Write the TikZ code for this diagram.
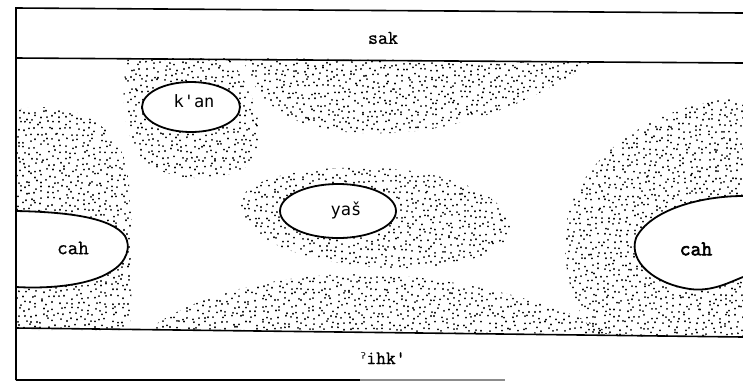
\documentclass[tikz,border=0pt]{standalone}
\usepackage{fontspec}
\newfontfamily\sansmono{DejaVu Sans Mono}
\newfontfamily\dvsans{DejaVu Sans}
\newfontfamily\typew[FakeBold=0.7]{Latin Modern Mono}
\newfontfamily\typewbold[FakeBold=2.8]{Latin Modern Mono}
\tikzset{
  frameline/.style={line width=1.6pt, black},
  hole/.style={line width=1.8pt, draw=black, fill=white},
  lab/.style={inner sep=0pt, text=black},
  dotpen/.style={line width=2.0pt, line cap=round, black}
}
\newcommand\dotfield[4]{%
  \foreach \i in {0,...,#3}{%
    \draw[dotpen] \foreach \j in {0,...,#4}{ ({#1+5.8*\i+2.4*rand},{#2+5.8*\j+2.4*rand}) -- ++(0,0.1) };
  }}
\begin{document}
\begin{tikzpicture}[x=1pt,y=-1pt]
\useasboundingbox[fill=white] (0,0) rectangle (743,384);
\pgfmathsetseed{7}
% left stipple
\begin{scope}
\clip (16,110) .. controls (60,100) and (110,115) .. (125,160) .. controls (135,200) and (132,290) .. (130,330) -- (16,330) -- cycle;
\dotfield{19}{100}{21}{42}
\end{scope}
% k'an stipple
\begin{scope}
\clip (128,58) -- (228,58) .. controls (250,80) and (268,130) .. (255,158) .. controls (240,182) and (180,185) .. (150,165) .. controls (125,148) and (118,100) .. (128,58) -- cycle;
\dotfield{118}{58}{27}{23}
\end{scope}
% top centre stipple
\begin{scope}
\clip (243,58) .. controls (262,128) and (330,135) .. (392,133) .. controls (470,130) and (545,95) .. (592,62) -- cycle;
\dotfield{240}{58}{62}{14}
\end{scope}
% centre stipple
\begin{scope}
\clip (240,205) .. controls (240,175) and (320,165) .. (380,168) .. controls (460,172) and (510,200) .. (510,228) .. controls (510,255) and (450,270) .. (390,268) .. controls (310,265) and (240,240) .. (240,205) -- cycle;
\dotfield{238}{164}{48}{19}
\end{scope}
% bottom mound stipple
\begin{scope}
\clip (148,330) .. controls (200,290) and (290,274) .. (360,274) .. controls (440,274) and (560,300) .. (610,334) -- cycle;
\dotfield{146}{271}{81}{12}
\end{scope}
% right stipple
\begin{scope}
\clip (743,98) .. controls (660,100) and (565,160) .. (565,240) .. controls (565,290) and (580,315) .. (595,336) -- (743,337) -- cycle;
\dotfield{563}{96}{32}{42}
\end{scope}
% holes
\draw[hole] (191,107) ellipse[x radius=49, y radius=25];
\draw[hole] (338,211) ellipse[x radius=58, y radius=27];
\draw[hole] (16,211) .. controls (70,212) and (112,218) .. (125,236) .. controls (131,246) and (128,262) .. (110,272) .. controls (90,285) and (50,289) .. (16,287);
\draw[hole] (743,196) .. controls (700,196) and (650,210) .. (636,238) .. controls (628,262) and (655,284) .. (690,289) .. controls (712,292) and (730,282) .. (743,277);
% frame
\draw[frameline] (16,380) -- (16,8) -- (743,13);
\draw[frameline] (16,58) -- (743,63);
\draw[frameline] (16,328) -- (743,337);
\draw[frameline] (16,380) -- (360,380);
\draw[line width=1.2pt, black!45] (360,380) -- (505,380);
% labels
\node[lab] (sak) at (383,38) {\typew\fontsize{19.5}{21}\selectfont sak};
\node[lab] (ihk) at (383,358) {{\dvsans\fontsize{16}{18}\selectfont ˀ}\typew\fontsize{19}{21}\selectfont ihk'};
\node[lab] (kan) at (194,101) {\sansmono\fontsize{17}{19}\selectfont k'an};
\node[lab] (yas) at (346,210) {\sansmono\fontsize{17}{19}\selectfont yaš};
\node[lab] (cahL) at (73,248) {\typew\fontsize{20.5}{22}\selectfont cah};
\node[lab] (cahR) at (696,249) {\typewbold\fontsize{21}{23}\selectfont cah};
\end{tikzpicture}
\end{document}
